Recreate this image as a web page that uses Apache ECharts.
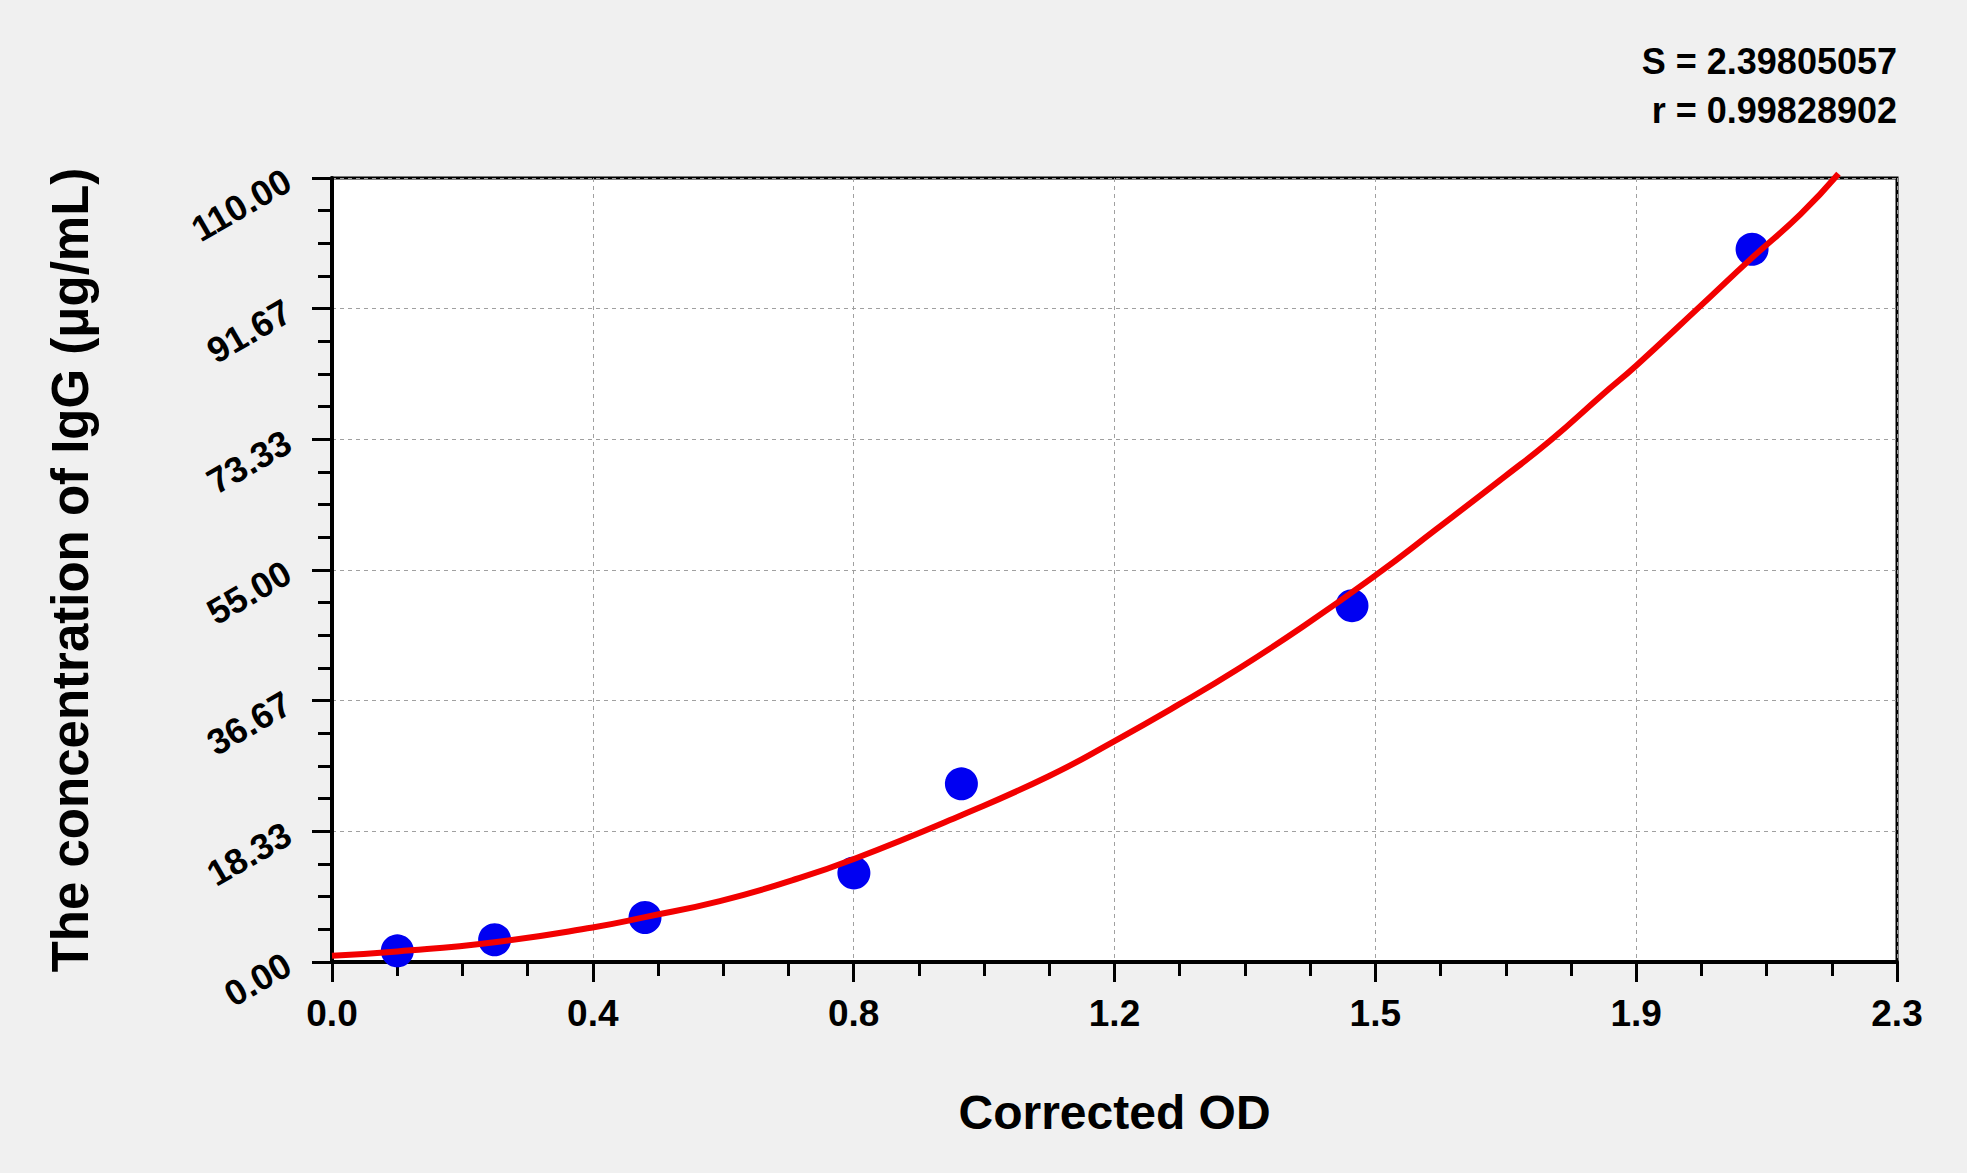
<!DOCTYPE html>
<html>
<head>
<meta charset="utf-8">
<title>IgG standard curve</title>
<script src="https://cdn.jsdelivr.net/npm/echarts@6/dist/echarts.min.js"></script>
<style>
  html, body { margin: 0; padding: 0; background: #f0f0f0; }
  #chart { width: 1967px; height: 1173px; }
</style>
</head>
<body>
<div id="chart"></div>
<script>
// standards (OD vs concentration)
var stdOD = [0.096, 0.239, 0.460, 0.767, 0.925, 1.499, 2.087];
var stdConc = [1.5625, 3.125, 6.25, 12.5, 25, 50, 100];

// fitted curve
var curveX = [0, 0.096, 0.239, 0.383, 0.460, 0.570, 0.676, 0.767, 0.925, 1.054, 1.150, 1.244,
              1.328, 1.426, 1.533, 1.624, 1.722, 1.791, 1.867, 1.917, 2.007, 2.088, 2.158, 2.214];
var curveY = [0.88, 1.48, 2.78, 4.85, 6.3, 8.55, 11.45, 14.45, 20.6, 26.1, 31.0, 36.1,
              40.9, 47.0, 54.2, 60.8, 68.0, 73.2, 79.6, 83.7, 91.67, 98.9, 104.9, 110.6];

// tick labels
var xTickLabels = ['0.0', '0.4', '0.8', '1.2', '1.5', '1.9', '2.3'];
var yTickLabels = ['0.00', '18.33', '36.67', '55.00', '73.33', '91.67', '110.00'];

var statLines = ['S = 2.39805057', 'r = 0.99828902'];

var xMax = 2.3, yMax = 110;
var xStep = xMax / 6, yStep = yMax / 6;
var fontFam = 'Arial, "Liberation Sans", sans-serif';

var stdData = [];
for (var i = 0; i < stdOD.length; i++) {
    stdData.push([stdOD[i], stdConc[i]]);
}
var curveData = [];
for (var i = 0; i < curveX.length; i++) {
    curveData.push([curveX[i], curveY[i]]);
}

var myChart = echarts.init(document.getElementById('chart'), null, { renderer: 'svg' });

var option = {
    backgroundColor: '#f0f0f0',
    animation: false,
    grid: {
        left: 332,
        top: 178,
        width: 1565,
        height: 784,
        show: true,
        backgroundColor: '#ffffff',
        borderColor: '#000000',
        borderWidth: 3
    },
    graphic: [
        {
            type: 'text',
            right: 70,
            top: 43,
            style: {
                text: statLines[0],
                font: 'bold 36px ' + fontFam,
                fill: '#000000',
                textAlign: 'right'
            }
        },
        {
            type: 'text',
            right: 70,
            top: 92,
            style: {
                text: statLines[1],
                font: 'bold 36px ' + fontFam,
                fill: '#000000',
                textAlign: 'right'
            }
        }
    ],
    xAxis: {
        type: 'value',
        min: 0,
        max: xMax,
        interval: xStep,
        name: 'Corrected OD',
        nameLocation: 'middle',
        nameGap: 126,
        nameTextStyle: {
            fontFamily: fontFam,
            fontWeight: 'bold',
            fontSize: 48,
            color: '#000000'
        },
        axisLine: { show: true, onZero: false, lineStyle: { color: '#000000', width: 4 } },
        axisTick: { show: true, inside: false, length: 20, lineStyle: { color: '#000000', width: 3 } },
        minorTick: { show: true, splitNumber: 4, length: 14, lineStyle: { color: '#000000', width: 3 } },
        axisLabel: {
            margin: 33,
            fontFamily: fontFam,
            fontWeight: 'bold',
            fontSize: 37,
            color: '#000000',
            formatter: function (value) {
                return xTickLabels[Math.round(value / xStep)];
            }
        },
        splitLine: { show: true, lineStyle: { color: '#a0a0a0', width: 1, type: [4, 4] } }
    },
    yAxis: {
        type: 'value',
        min: 0,
        max: yMax,
        interval: yStep,
        name: 'The concentration of IgG (μg/mL)',
        nameLocation: 'middle',
        nameGap: 236,
        nameTextStyle: {
            fontFamily: fontFam,
            fontWeight: 'bold',
            fontSize: 51,
            color: '#000000'
        },
        axisLine: { show: true, onZero: false, lineStyle: { color: '#000000', width: 4 } },
        axisTick: { show: true, inside: false, length: 20, lineStyle: { color: '#000000', width: 3 } },
        minorTick: { show: true, splitNumber: 4, length: 14, lineStyle: { color: '#000000', width: 3 } },
        axisLabel: {
            margin: 44,
            rotate: 30,
            fontFamily: fontFam,
            fontWeight: 'bold',
            fontSize: 36,
            color: '#000000',
            formatter: function (value) {
                return yTickLabels[Math.round(value / yStep)];
            }
        },
        splitLine: { show: true, lineStyle: { color: '#a0a0a0', width: 1, type: [4, 4] } }
    },
    series: [
        {
            name: 'Standards',
            type: 'scatter',
            data: stdData,
            symbol: 'circle',
            symbolSize: 33,
            itemStyle: { color: '#0000f2', opacity: 1 },
            z: 2
        },
        {
            name: 'Fit',
            type: 'line',
            data: curveData,
            smooth: true,
            showSymbol: false,
            clip: false,
            lineStyle: { color: '#f20000', width: 6 },
            z: 3
        }
    ]
};

myChart.setOption(option);
</script>
</body>
</html>
